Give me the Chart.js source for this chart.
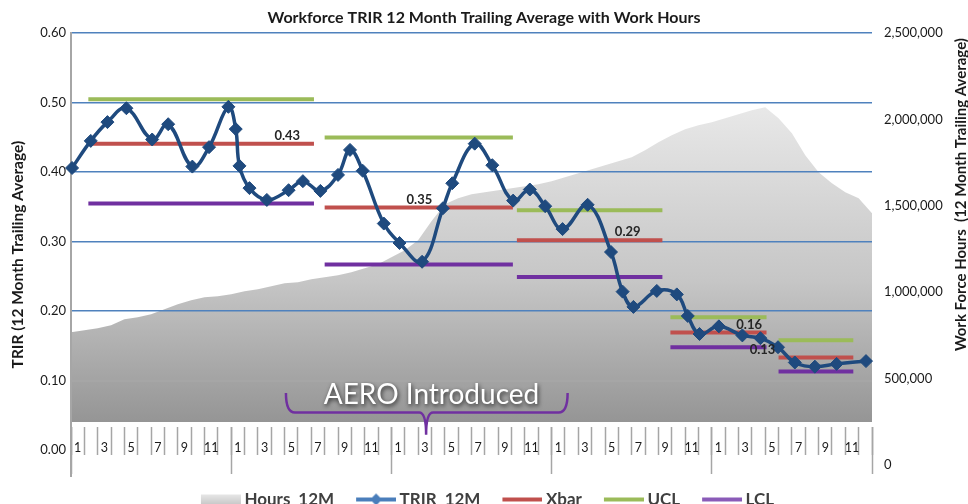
<!DOCTYPE html>
<html>
<head>
<meta charset="utf-8">
<title>Workforce TRIR 12 Month Trailing Average with Work Hours</title>
<script src="https://cdn.jsdelivr.net/npm/chart.js@4.4.1/dist/chart.umd.min.js"></script>
<style>
  html, body { margin: 0; padding: 0; background: #fff; }
  #wrap { width: 968px; height: 504px; }
</style>
</head>
<body>
<div id="wrap"><canvas id="trirChart" width="968" height="504"></canvas></div>
<script>
// Data

// one label per month, five years
const monthTickLabels = [
  '1', '', '3', '', '5', '', '7', '', '9', '', '11', '',
  '1', '', '3', '', '5', '', '7', '', '9', '', '11', '',
  '1', '', '3', '', '5', '', '7', '', '9', '', '11', '',
  '1', '', '3', '', '5', '', '7', '', '9', '', '11', '',
  '1', '', '3', '', '5', '', '7', '', '9', '', '11', ''
];
const yearCenters = [6, 18, 30, 42, 54];

// work hours, 12 month trailing total, at each month boundary (0..60)
const hours12M = [
  767000, 778000, 790000, 807000, 842000, 854000, 871000, 900000, 929000, 952000,
  970000, 975000, 987000, 1004000, 1016000, 1033000, 1051000, 1057000, 1074000, 1086000,
  1097000, 1115000, 1138000, 1161000, 1202000, 1242000, 1300000, 1410000, 1509000, 1544000,
  1567000, 1578000, 1590000, 1601000, 1613000, 1625000, 1642000, 1665000, 1688000, 1712000,
  1735000, 1758000, 1781000, 1822000, 1868000, 1909000, 1944000, 1967000, 1984000, 2007000,
  2030000, 2054000, 2071000, 2007000, 1920000, 1793000, 1694000, 1630000, 1578000, 1544000,
  1457000
];
const hoursBase = 247000;

// TRIR 12 month trailing average
const trirMonth = [
  0.08, 1.48, 2.73, 4.15, 6.08, 7.28, 9.09, 10.34, 11.79, 12.34,
  12.62, 13.37, 14.67, 16.30, 17.37, 18.68, 20.00, 20.90, 21.85, 23.43,
  24.61, 26.30, 27.86, 28.56, 30.24, 31.56, 33.12, 34.37, 35.52, 36.82,
  38.70, 40.45, 41.32, 42.13, 43.88, 45.38, 46.20, 47.08, 48.53, 50.29,
  51.64, 52.96, 54.22, 55.72, 57.35, 59.55
];
const trirRate = [
  0.406, 0.445, 0.472, 0.492, 0.447, 0.469, 0.408, 0.436, 0.494, 0.462,
  0.409, 0.377, 0.360, 0.374, 0.387, 0.373, 0.396, 0.432, 0.402, 0.326,
  0.298, 0.271, 0.348, 0.384, 0.441, 0.410, 0.359, 0.375, 0.351, 0.318,
  0.353, 0.285, 0.228, 0.206, 0.229, 0.224, 0.193, 0.167, 0.178, 0.165,
  0.161, 0.148, 0.126, 0.120, 0.124, 0.128
];

// control chart phases
const phaseStart = [1.3, 19.0, 33.4, 44.9, 53.0];
const phaseEnd = [18.2, 33.1, 44.3, 52.1, 58.6];
const xbar = [0.441, 0.349, 0.302, 0.169, 0.133];
const ucl = [0.505, 0.450, 0.345, 0.191, 0.158];
const lcl = [0.355, 0.267, 0.249, 0.148, 0.113];
const xbarText = ['0.43', '0.35', '0.29', '0.16', '0.13'];
const xbarTextMonth = [16.2, 26.1, 41.7, 50.8, 51.8];

const yTicks = [0, 0.1, 0.2, 0.3, 0.4, 0.5, 0.6];
const y2Ticks = [0, 500000, 1000000, 1500000, 2000000, 2500000];

// AERO note
const aeroText = 'AERO Introduced';
const aeroFrom = 16.1;
const aeroTo = 37.2;
const aeroTip = 26.6;
const aeroTextMonth = 27.0;


const chartFont = "Lato, 'Open Sans', sans-serif";
Chart.defaults.font.family = chartFont;
Chart.defaults.color = '#1a1a1a';

const BLUE = '#1f4a7e';
const RED = '#c0504d';
const GREEN = '#9bbb59';
const PURPLE = '#7030a0';


function limitPoints(levels) {
  const pts = [];
  levels.forEach((v, i) => {
    pts.push({ x: phaseStart[i], y: v }, { x: phaseEnd[i], y: v }, { x: phaseEnd[i], y: null });
  });
  return pts;
}

function hoursFill(context) {
  const chart = context.chart;
  if (!chart.chartArea) return '#cccccc';
  const y2 = chart.scales.y2;
  const g = chart.ctx.createLinearGradient(0, y2.getPixelForValue(Math.max(...hours12M)), 0, y2.getPixelForValue(hoursBase));
  g.addColorStop(0, '#e8e8e8');
  g.addColorStop(0.55, '#c6c6c6');
  g.addColorStop(1, '#959595');
  return g;
}


// Legend icons

function legendIcon(kind, color) {
  const c = document.createElement('canvas');
  c.width = 52;
  c.height = 14;
  const g = c.getContext('2d');
  if (kind === 'area') {
    const grad = g.createLinearGradient(0, 2, 0, 12);
    grad.addColorStop(0, '#e6e6e6');
    grad.addColorStop(1, '#c8c8c8');
    g.fillStyle = grad;
    g.fillRect(12, 2, 40, 10);
  } else {
    g.strokeStyle = color;
    g.lineWidth = 4;
    g.beginPath();
    g.moveTo(12, 7);
    g.lineTo(52, 7);
    g.stroke();
    if (kind === 'marker') {
      g.fillStyle = color;
      g.beginPath();
      g.moveTo(32, 1);
      g.lineTo(38, 7);
      g.lineTo(32, 13);
      g.lineTo(26, 7);
      g.closePath();
      g.fill();
    }
  }
  return c;
}

const legendIcons = [
  legendIcon('area'),
  legendIcon('marker', '#4a7ebb'),
  legendIcon('line', RED),
  legendIcon('line', GREEN),
  legendIcon('line', '#8a5bb8')
];


// Labels, bracket and right title

const annotations = {
  id: 'annotations',
  afterDatasetsDraw(chart) {
    const { ctx, scales: { x, y } } = chart;
    ctx.save();

    ctx.font = 'bold 13px ' + chartFont;
    ctx.fillStyle = '#262626';
    ctx.textAlign = 'center';
    ctx.textBaseline = 'middle';
    xbarText.forEach((t, i) => {
      ctx.fillText(t, x.getPixelForValue(xbarTextMonth[i]), y.getPixelForValue(xbar[i]) - 8);
    });

    const xl = x.getPixelForValue(aeroFrom);
    const xr = x.getPixelForValue(aeroTo);
    const xt = x.getPixelForValue(aeroTip);
    const yTop = y.getPixelForValue(0.082);
    const yBot = y.getPixelForValue(0.054);
    const yTip = y.getPixelForValue(0.022);
    ctx.strokeStyle = PURPLE;
    ctx.lineWidth = 2.5;
    ctx.beginPath();
    ctx.moveTo(xl, yTop);
    ctx.quadraticCurveTo(xl, yBot, xl + 9, yBot);
    ctx.lineTo(xt - 7, yBot);
    ctx.quadraticCurveTo(xt, yBot, xt, yTip);
    ctx.quadraticCurveTo(xt, yBot, xt + 7, yBot);
    ctx.lineTo(xr - 9, yBot);
    ctx.quadraticCurveTo(xr, yBot, xr, yTop);
    ctx.stroke();

    ctx.font = '28px ' + chartFont;
    ctx.textBaseline = 'alphabetic';
    ctx.shadowColor = 'rgba(0,0,0,0.75)';
    ctx.shadowBlur = 4;
    ctx.shadowOffsetX = 1;
    ctx.shadowOffsetY = 2;
    ctx.fillStyle = '#ffffff';
    ctx.fillText(aeroText, x.getPixelForValue(aeroTextMonth), y.getPixelForValue(0.066));
    ctx.restore();
  },
  afterDraw(chart) {
    const { ctx, chartArea } = chart;
    ctx.save();
    ctx.translate(chart.width - 7, (chartArea.top + chartArea.bottom) / 2 - 60);
    ctx.rotate(-Math.PI / 2);
    ctx.font = 'bold 15px ' + chartFont;
    ctx.fillStyle = '#1a1a1a';
    ctx.textAlign = 'center';
    ctx.textBaseline = 'middle';
    ctx.fillText('Work Force Hours  (12 Month Trailing Average)', 0, 0);
    ctx.restore();
  }
};


// Chart

const ctx = document.getElementById('trirChart').getContext('2d');

const trirChart = new Chart(ctx, {
  type: 'line',
  data: {
    datasets: [
      {
        label: 'Hours_12M',
        data: hours12M.map((v, i) => ({ x: i, y: v })),
        yAxisID: 'y2',
        backgroundColor: hoursFill,
        borderWidth: 0,
        pointRadius: 0,
        fill: { value: hoursBase },
        order: 3
      },
      {
        label: 'TRIR_12M',
        data: trirMonth.map((m, i) => ({ x: m, y: trirRate[i] })),
        yAxisID: 'y',
        borderColor: BLUE,
        backgroundColor: BLUE,
        borderWidth: 3.5,
        tension: 0.4,
        pointStyle: 'rectRot',
        pointRadius: 6.5,
        pointBorderWidth: 1,
        pointBorderColor: BLUE,
        clip: false,
        order: 0
      },
      {
        label: 'Xbar',
        data: limitPoints(xbar),
        borderColor: RED,
        borderWidth: 4,
        pointRadius: 0,
        spanGaps: false,
        order: 1
      },
      {
        label: 'UCL',
        data: limitPoints(ucl),
        borderColor: GREEN,
        borderWidth: 4,
        pointRadius: 0,
        spanGaps: false,
        order: 1
      },
      {
        label: 'LCL',
        data: limitPoints(lcl),
        borderColor: PURPLE,
        borderWidth: 4,
        pointRadius: 0,
        spanGaps: false,
        order: 1
      }
    ]
  },
  options: {
    responsive: false,
    animation: false,
    devicePixelRatio: 1,
    layout: { padding: { left: 0, right: 0, top: 0, bottom: -14 } },
    plugins: {
      filler: { drawTime: 'beforeDraw' },
      title: {
        display: true,
        text: 'Workforce TRIR 12 Month Trailing Average with Work Hours',
        color: '#1a1a1a',
        font: { size: 16, weight: 'bold' },
        padding: { top: 8, bottom: 6 }
      },
      legend: {
        position: 'bottom',
        labels: {
          usePointStyle: true,
          pointStyleWidth: 42,
          boxHeight: 14,
          padding: 15,
          color: '#404040',
          font: { size: 17, weight: 'bold' },
          generateLabels: (chart) => chart.data.datasets.map((ds, i) => ({
            text: ds.label,
            datasetIndex: i,
            pointStyle: legendIcons[i],
            hidden: false,
            fontColor: '#404040',
            lineWidth: 0,
            strokeStyle: 'rgba(0,0,0,0)',
            fillStyle: 'rgba(0,0,0,0)'
          }))
        }
      },
      tooltip: { enabled: true }
    },
    scales: {
      x: {
        type: 'linear',
        axis: 'x',
        min: 0,
        max: 60,
        position: { y: 0.033 },
        afterBuildTicks: (scale) => {
          scale.ticks = monthTickLabels.map((t, i) => ({ value: i + 0.5 }));
        },
        ticks: {
          autoSkip: false,
          maxRotation: 0,
          padding: -15,
          color: '#1a1a1a',
          font: { size: 12.5 },
          callback: (v, i) => monthTickLabels[i]
        },
        grid: {
          offset: true,
          drawOnChartArea: false,
          drawTicks: true,
          tickLength: 28,
          tickColor: '#a6a6a6',
          tickWidth: 1.5
        },
        border: { display: false }
      },
      x2: {
        type: 'linear',
        axis: 'x',
        min: 0,
        max: 60,
        position: { y: 0.033 },
        afterBuildTicks: (scale) => {
          scale.ticks = yearCenters.map((v) => ({ value: v }));
        },
        ticks: {
          autoSkip: false,
          maxRotation: 0,
          callback: () => ''
        },
        grid: {
          offset: true,
          drawOnChartArea: false,
          drawTicks: true,
          tickLength: 47,
          tickColor: '#a6a6a6',
          tickWidth: 1.5
        },
        border: { display: false }
      },
      y: {
        type: 'linear',
        position: 'left',
        min: -0.0374,
        max: 0.6,
        afterBuildTicks: (scale) => {
          scale.ticks = yTicks.map((v) => ({ value: v }));
        },
        afterFit: (scale) => { scale.width = 71; },
        ticks: {
          padding: 5,
          color: '#1a1a1a',
          font: { size: 13 },
          callback: (v) => v.toFixed(2)
        },
        grid: {
          drawTicks: false,
          lineWidth: (c) => (c.tick && c.tick.value > 0.15 ? 1.5 : 2),
          color: (c) => {
            if (!c.tick) return 'rgba(0,0,0,0)';
            if (c.tick.value > 0.15) return '#4f81bd';
            if (Math.abs(c.tick.value - 0.1) < 1e-6) return '#a6a6a6';
            return 'rgba(0,0,0,0)';
          }
        },
        border: { display: true, color: '#a6a6a6', width: 2 },
        title: {
          display: true,
          text: 'TRIR (12 Month Trailing Average)',
          color: '#1a1a1a',
          font: { size: 15.5, weight: 'bold' },
          padding: { top: 9, bottom: 0 }
        }
      },
      y2: {
        type: 'linear',
        axis: 'y',
        position: 'right',
        min: -66000,
        max: 2500000,
        afterBuildTicks: (scale) => {
          scale.ticks = y2Ticks.map((v) => ({ value: v }));
        },
        afterFit: (scale) => { scale.width = 96; },
        ticks: {
          padding: 4,
          color: '#1a1a1a',
          font: { size: 13 },
          callback: (v) => v.toLocaleString('en-US')
        },
        grid: { display: false, drawOnChartArea: false },
        border: { display: false }
      }
    }
  },
  plugins: [annotations]
});
</script>
</body>
</html>
